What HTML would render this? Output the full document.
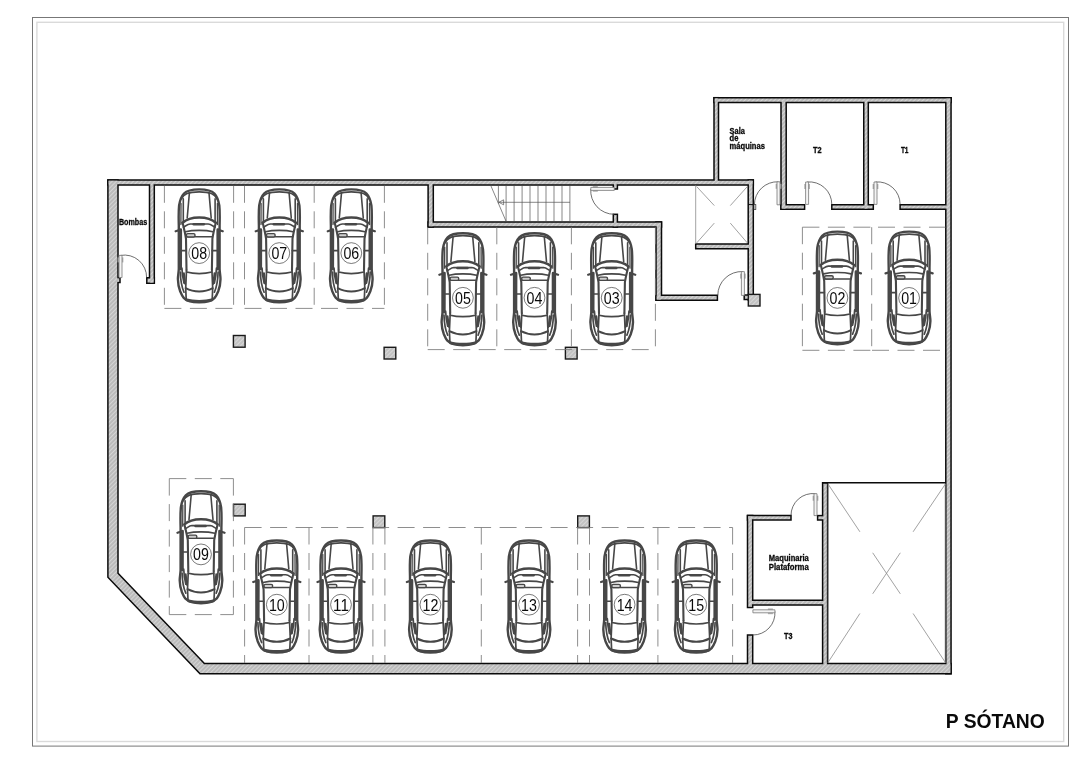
<!DOCTYPE html>
<html lang="es"><head><meta charset="utf-8"><title>P SÓTANO</title>
<style>
html,body{margin:0;padding:0;background:#fff;}
body{width:1086px;height:768px;overflow:hidden;}
svg{display:block;will-change:transform;}
text{font-family:"Liberation Sans",sans-serif;fill:#0a0a0a;}
.num{font-size:16.3px;}
.lbl text{font-size:8.3px;font-weight:bold;stroke:#0a0a0a;stroke-width:0.3px;}
.title{font-size:19.6px;font-weight:bold;}
</style></head><body>
<svg width="1086" height="768" viewBox="0 0 1086 768">
<defs>
<pattern id="hatch" width="3" height="3" patternUnits="userSpaceOnUse" patternTransform="rotate(-45)">
<rect width="3" height="3" fill="#bbb"/><rect width="3" height="0.9" fill="#d8d8d8"/>
</pattern>
<pattern id="hatch2" width="3" height="3" patternUnits="userSpaceOnUse" patternTransform="rotate(-45)">
<rect width="3" height="3" fill="#c2c2c2"/><rect width="3" height="0.9" fill="#dadada"/>
</pattern>

<symbol id="car" viewBox="-26 -2 52 118" preserveAspectRatio="none" overflow="visible">
 <g fill="none" stroke="#474747" stroke-linecap="round" stroke-linejoin="round">
  <!-- body -->
  <path stroke-width="2.4" fill="#fff" d="M0 1.1 C-7 1.1 -12 1.8 -15.2 5.2 C-17.5 7.6 -19.2 11.5 -20.1 17 C-20.6 22 -20.6 30 -20.4 37 L-20.4 80 C-20.6 84 -21.3 87 -21.3 90 C-21.2 95 -20.2 99 -19.1 101.8 C-18 104.4 -17 106.8 -15.6 108.4 C-13.5 111 -8 113 0 113 C8 113 13.5 111 15.6 108.4 C17 106.8 18 104.4 19.1 101.8 C20.2 99 21.2 95 21.3 90 C21.3 87 20.6 84 20.4 80 L20.4 37 C20.6 30 20.6 22 20.1 17 C19.2 11.5 17.5 7.6 15.2 5.2 C12 1.8 7 1.1 0 1.1 Z"/>
  <!-- front bumper band -->
  <path stroke-width="1.7" d="M-17.8 10.5 C-15.5 5.6 -11 3.5 0 3.5 C11 3.5 15.5 5.6 17.8 10.5"/>
  <!-- side thick bands -->
  <path stroke-width="2.8" d="M-18.5 41 L-18.6 80 M18.6 41 L18.6 80"/>
  <!-- mirrors -->
  <path stroke-width="2.2" d="M-23.6 42.6 L-19 41.2 M23.6 42.6 L19 41.2"/>
  <!-- hood creases -->
  <path stroke-width="1.6" d="M-9.8 4.6 L-12 29.4 M9.8 4.6 L12 29.4"/>
  <path stroke-width="1.6" d="M-15.9 10.5 L-15.9 33 M15.9 10.5 L15.9 33"/>
  <path stroke-width="1.3" d="M-18.2 15 L-18.3 36 M18.2 15 L18.3 36"/>
  <!-- windshield base -->
  <path stroke-width="2.5" d="M-16.6 34.2 C-12 30 -6 29 0 29 C6 29 12 30 16.6 34.2"/>
  <!-- cowl line with wiper -->
  <path stroke-width="1.55" d="M-15.8 38.6 C-13 37 -11.5 35.5 -9 35.4 L9 35.4 C11.5 35.5 13 37 15.8 38.6"/>
  <path stroke-width="2.5" d="M-5.5 35.7 L4.6 35.7"/>
  <!-- A pillars / roof sides -->
  <path stroke-width="2.1" d="M-16.6 34.2 C-15.4 39 -14 45 -13.2 50 L-12.7 81 M16.6 34.2 C15.4 39 14 45 13.2 50 L12.7 81"/>
  <!-- roof front edge -->
  <path stroke-width="1.6" d="M-13.8 43.1 C-9 41.9 -4 41.7 0 41.7 C4 41.7 9 41.9 13.8 43.1"/>
  <path stroke-width="1.5" d="M-12.6 48.1 L12.6 48.1"/>
  <rect stroke-width="1.4" x="-12.8" y="44.9" width="8.6" height="3.3" rx="1.4" fill="#cfcfcf"/>
  <!-- door split ticks -->
  <path stroke-width="1.6" d="M-17.5 61.8 L-13 61.8 M17.5 61.8 L13 61.8"/>
  <!-- rear window -->
  <path stroke-width="1.7" d="M-12.7 83 C-8 84.2 -4 84.5 0 84.5 C4 84.5 8 84.2 12.7 83"/>
  <path stroke-width="2.0" d="M-13.5 99 C-9 101.4 -4.5 102.3 0 102.3 C4.5 102.3 9 101.4 13.5 99"/>
  <path stroke-width="1.7" d="M-12.7 81 L-13.5 99 L-13 110 M12.7 81 L13.5 99 L13 110"/>
  <!-- rear fender lines -->
  <path stroke-width="1.7" d="M-17.3 79 C-17 85 -16.2 90 -15.2 94 M17.3 79 C17 85 16.2 90 15.2 94 M-18.9 83 C-18.7 91 -17.4 98 -15.2 103 M18.9 83 C18.7 91 17.4 98 15.2 103 M-15.2 84 L-13.9 95 M15.2 84 L13.9 95"/>
  <!-- rear bumper -->
  <path stroke-width="2.8" d="M-12.5 110.6 C-8.5 111.8 -4.5 112 0 112 C4.5 112 8.5 111.8 12.5 110.6"/>
 </g>
</symbol>

</defs>
<rect width="1086" height="768" fill="#fff"/>
<rect x="32.5" y="17.5" width="1036" height="728.6" fill="none" stroke="#777" stroke-width="1"/>
<rect x="36.9" y="22.3" width="1026.8" height="719.2" fill="none" stroke="#dadada" stroke-width="1.4"/>
<g id="walls">
<g fill="none" stroke="#0a0a0a" stroke-width="3.0" stroke-linejoin="miter">
<polygon points="108.65,180.65 117.25,180.65 117.25,573.60 204.08,664.35 950.30,664.35 950.30,673.05 200.32,673.05 108.65,577.00"/>
<polygon points="108.65,180.65 752.55,180.65 752.55,184.35 108.65,184.35"/>
<polygon points="946.55,98.45 950.30,98.45 950.30,673.05 946.55,673.05"/>
<polygon points="714.75,98.45 950.30,98.45 950.30,101.85 714.75,101.85"/>
<polygon points="714.75,98.45 717.75,98.45 717.75,182.25 714.75,182.25"/>
<polygon points="150.25,183.35 153.55,183.35 153.55,282.55 150.25,282.55"/>
<polygon points="147.55,278.55 153.55,278.55 153.55,282.55 147.55,282.55"/>
<polygon points="112.75,278.35 119.25,278.35 119.25,281.85 112.75,281.85"/>
<polygon points="428.85,183.35 432.55,183.35 432.55,226.25 428.85,226.25"/>
<polygon points="428.85,222.85 660.75,222.85 660.75,226.25 428.85,226.25"/>
<polygon points="614.05,183.35 616.65,183.35 616.65,188.25 614.05,188.25"/>
<polygon points="614.05,215.05 616.65,215.05 616.65,226.25 614.05,226.25"/>
<polygon points="656.75,222.85 660.75,222.85 660.75,299.55 656.75,299.55"/>
<polygon points="656.75,296.05 716.65,296.05 716.65,299.55 656.75,299.55"/>
<polygon points="748.95,180.65 752.55,180.65 752.55,299.25 748.95,299.25"/>
<polygon points="744.95,295.75 749.25,295.75 749.25,298.75 744.95,298.75"/>
<polygon points="696.45,244.75 750.25,244.75 750.25,248.05 696.45,248.05"/>
<polygon points="781.75,100.75 785.45,100.75 785.45,208.55 781.75,208.55"/>
<polygon points="781.75,205.45 803.85,205.45 803.85,208.55 781.75,208.55"/>
<polygon points="832.55,205.45 872.55,205.45 872.55,208.55 832.55,208.55"/>
<polygon points="864.50,100.75 867.55,100.75 867.55,208.55 864.50,208.55"/>
<polygon points="900.85,205.45 947.65,205.45 947.65,208.55 900.85,208.55"/>
<polygon points="823.35,483.55 826.85,483.55 826.85,667.25 823.35,667.25"/>
<polygon points="818.35,516.35 824.25,516.35 824.25,519.25 818.35,519.25"/>
<polygon points="748.25,516.35 790.25,516.35 790.25,519.25 748.25,519.25"/>
<polygon points="748.25,516.35 751.95,516.35 751.95,606.85 748.25,606.85"/>
<polygon points="748.25,635.75 751.95,635.75 751.95,667.25 748.25,667.25"/>
<polygon points="750.75,601.05 824.25,601.05 824.25,604.15 750.75,604.15"/>
</g>
<g fill="url(#hatch)" stroke="none">
<polygon points="108.65,180.65 117.25,180.65 117.25,573.60 204.08,664.35 950.30,664.35 950.30,673.05 200.32,673.05 108.65,577.00"/>
<polygon points="108.65,180.65 752.55,180.65 752.55,184.35 108.65,184.35"/>
<polygon points="946.55,98.45 950.30,98.45 950.30,673.05 946.55,673.05"/>
<polygon points="714.75,98.45 950.30,98.45 950.30,101.85 714.75,101.85"/>
<polygon points="714.75,98.45 717.75,98.45 717.75,182.25 714.75,182.25"/>
<polygon points="150.25,183.35 153.55,183.35 153.55,282.55 150.25,282.55"/>
<polygon points="147.55,278.55 153.55,278.55 153.55,282.55 147.55,282.55"/>
<polygon points="112.75,278.35 119.25,278.35 119.25,281.85 112.75,281.85"/>
<polygon points="428.85,183.35 432.55,183.35 432.55,226.25 428.85,226.25"/>
<polygon points="428.85,222.85 660.75,222.85 660.75,226.25 428.85,226.25"/>
<polygon points="614.05,183.35 616.65,183.35 616.65,188.25 614.05,188.25"/>
<polygon points="614.05,215.05 616.65,215.05 616.65,226.25 614.05,226.25"/>
<polygon points="656.75,222.85 660.75,222.85 660.75,299.55 656.75,299.55"/>
<polygon points="656.75,296.05 716.65,296.05 716.65,299.55 656.75,299.55"/>
<polygon points="748.95,180.65 752.55,180.65 752.55,299.25 748.95,299.25"/>
<polygon points="744.95,295.75 749.25,295.75 749.25,298.75 744.95,298.75"/>
<polygon points="696.45,244.75 750.25,244.75 750.25,248.05 696.45,248.05"/>
<polygon points="781.75,100.75 785.45,100.75 785.45,208.55 781.75,208.55"/>
<polygon points="781.75,205.45 803.85,205.45 803.85,208.55 781.75,208.55"/>
<polygon points="832.55,205.45 872.55,205.45 872.55,208.55 832.55,208.55"/>
<polygon points="864.50,100.75 867.55,100.75 867.55,208.55 864.50,208.55"/>
<polygon points="900.85,205.45 947.65,205.45 947.65,208.55 900.85,208.55"/>
<polygon points="823.35,483.55 826.85,483.55 826.85,667.25 823.35,667.25"/>
<polygon points="818.35,516.35 824.25,516.35 824.25,519.25 818.35,519.25"/>
<polygon points="748.25,516.35 790.25,516.35 790.25,519.25 748.25,519.25"/>
<polygon points="748.25,516.35 751.95,516.35 751.95,606.85 748.25,606.85"/>
<polygon points="748.25,635.75 751.95,635.75 751.95,667.25 748.25,667.25"/>
<polygon points="750.75,601.05 824.25,601.05 824.25,604.15 750.75,604.15"/>
</g>
</g>
<g stroke="#0a0a0a" stroke-width="1.4" fill="none">
<line x1="822.6" y1="482.8" x2="946" y2="482.8"/>
<line x1="748.2" y1="204.6" x2="753.3" y2="204.6" stroke-width="1"/>
<rect x="754" y="204.6" width="1.8" height="4.8" fill="#fff" stroke="#333" stroke-width="0.8"/>
</g>
<g fill="url(#hatch2)" stroke="#1a1a1a" stroke-width="1.4">
<rect x="233.4" y="335.5" width="11.7" height="11.7"/>
<rect x="384.1" y="347.3" width="11.7" height="11.7"/>
<rect x="565.4" y="347.3" width="11.7" height="11.7"/>
<rect x="233.5" y="504.2" width="11.7" height="11.7"/>
<rect x="373.1" y="515.9" width="11.7" height="11.7"/>
<rect x="577.7" y="515.9" width="11.7" height="11.7"/>
<rect x="748.3" y="294.4" width="11.7" height="11.6"/>
</g>
<g stroke="#8a8a8a" stroke-width="0.8" fill="none">
<line x1="695.7" y1="185.3" x2="695.7" y2="244"/>
<line x1="696.7" y1="186.6" x2="714.3" y2="205.6"/>
<line x1="747.3" y1="186.6" x2="730.3" y2="205.6"/>
<line x1="696.7" y1="242.9" x2="714.3" y2="223.1"/>
<line x1="747.3" y1="242.9" x2="730.3" y2="223.1"/>
<line x1="828" y1="484" x2="859.9" y2="531.8"/>
<line x1="945.4" y1="484" x2="913.1" y2="531.8"/>
<line x1="872.7" y1="552.8" x2="900.3" y2="593.8"/>
<line x1="900.3" y1="552.8" x2="872.7" y2="593.8"/>
<line x1="828" y1="662.5" x2="859.9" y2="613.5"/>
<line x1="945.4" y1="662.5" x2="913.1" y2="613.5"/>
<line x1="828.2" y1="483.5" x2="828.2" y2="663"/>
<line x1="945.2" y1="483.5" x2="945.2" y2="663"/>
</g>
<g stroke="#555" stroke-width="0.7" fill="none">
<line x1="490.9" y1="185.8" x2="506.1" y2="221.4"/>
<line x1="506.1" y1="185.8" x2="506.1" y2="221.4"/>
<line x1="514.1" y1="185.8" x2="514.1" y2="221.4"/>
<line x1="522.1" y1="185.8" x2="522.1" y2="221.4"/>
<line x1="530.0" y1="185.8" x2="530.0" y2="221.4"/>
<line x1="538.0" y1="185.8" x2="538.0" y2="221.4"/>
<line x1="546.0" y1="185.8" x2="546.0" y2="221.4"/>
<line x1="554.0" y1="185.8" x2="554.0" y2="221.4"/>
<line x1="562.0" y1="185.8" x2="562.0" y2="221.4"/>
<line x1="569.9" y1="185.8" x2="569.9" y2="221.4"/>
<line x1="498.4" y1="185.8" x2="498.4" y2="203.5"/>
<line x1="499" y1="202.3" x2="570" y2="202.3"/>
<path d="M498.8 202.3 L503.6 199.8 L503.6 204.8 Z"/>
</g>
<g stroke="#7a7a7a" stroke-width="0.85" fill="none" stroke-dasharray="17 8.5">
<path d="M164.4 185.8L164.4 308.4"/>
<path d="M233.6 185.8L233.6 308.4"/>
<path d="M164.4 308.4L233.6 308.4"/>
<path d="M244.5 185.8L244.5 308.4"/>
<path d="M314.2 185.8L314.2 308.4"/>
<path d="M384.4 185.8L384.4 308.4"/>
<path d="M244.5 308.4L384.4 308.4"/>
<path d="M427.7 227.3L427.7 349.6"/>
<path d="M496.8 227.3L496.8 349.6"/>
<path d="M571.4 227.3L571.4 349.6"/>
<path d="M655.4 227.3L655.4 349.6"/>
<path d="M427.7 349.6L655.4 349.6"/>
<path d="M802.4 227.2L802.4 350.3"/>
<path d="M871.7 227.2L871.7 350.3"/>
<path d="M802.4 227.2L871.7 227.2"/>
<path d="M802.4 350.3L871.7 350.3"/>
<path d="M878 227.2L945.5 227.2"/>
<path d="M872 350.3L945.5 350.3"/>
<path d="M169.3 478.6L233.4 478.6"/>
<path d="M169.3 478.6L169.3 614.6"/>
<path d="M233.4 478.6L233.4 614.6"/>
<path d="M169.3 614.6L233.4 614.6"/>
<path d="M244.6 527.5L732.6 527.5"/>
<path d="M244.6 527.5L244.6 663"/>
<path d="M309 527.5L309 663"/>
<path d="M372.9 527.5L372.9 663"/>
<path d="M384.9 527.5L384.9 663"/>
<path d="M481.3 527.5L481.3 663"/>
<path d="M577.6 527.5L577.6 663"/>
<path d="M589.5 527.5L589.5 663"/>
<path d="M657.9 527.5L657.9 663"/>
<path d="M732.6 527.5L732.6 663"/>
</g>
<g stroke="#555" stroke-width="0.8" fill="#fff">
<polygon points="123.40,262.40 123.40,257.40 117.60,257.40 117.60,262.40" fill="#b4b4b4" stroke="none"/>
<path fill="none" stroke="#4a4a4a" d="M120.5 255.4 A22.2 22.2 0 0 1 146.6 277.6"/>
<polygon points="122.00,277.60 122.00,255.40 119.00,255.40 119.00,277.60" fill="#f4f4f4" stroke="#777"/>
<polygon points="597.80,191.80 592.80,191.80 592.80,186.00 597.80,186.00" fill="#b4b4b4" stroke="none"/>
<path fill="none" stroke="#4a4a4a" d="M590.8 188.9 A23.5 23.5 0 0 0 614.3 214.3"/>
<polygon points="614.30,190.40 590.80,190.40 590.80,187.40 614.30,187.40" fill="#f4f4f4" stroke="#777"/>
<polygon points="775.60,188.80 775.60,183.80 781.40,183.80 781.40,188.80" fill="#b4b4b4" stroke="none"/>
<path fill="none" stroke="#4a4a4a" d="M778.5 181.8 A23.0 23.0 0 0 0 754.4 204.8"/>
<polygon points="777.00,204.80 777.00,181.80 780.00,181.80 780.00,204.80" fill="#f4f4f4" stroke="#777"/>
<polygon points="810.00,189.00 810.00,184.00 804.20,184.00 804.20,189.00" fill="#b4b4b4" stroke="none"/>
<path fill="none" stroke="#4a4a4a" d="M807.1 182.0 A22.4 22.4 0 0 1 831.8 204.4"/>
<polygon points="808.60,204.40 808.60,182.00 805.60,182.00 805.60,204.40" fill="#f4f4f4" stroke="#777"/>
<polygon points="878.40,189.00 878.40,184.00 872.60,184.00 872.60,189.00" fill="#b4b4b4" stroke="none"/>
<path fill="none" stroke="#4a4a4a" d="M875.5 182.0 A22.4 22.4 0 0 1 900.1 204.4"/>
<polygon points="877.00,204.40 877.00,182.00 874.00,182.00 874.00,204.40" fill="#f4f4f4" stroke="#777"/>
<polygon points="740.00,278.60 740.00,273.60 745.80,273.60 745.80,278.60" fill="#b4b4b4" stroke="none"/>
<path fill="none" stroke="#4a4a4a" d="M742.9 271.6 A23.8 23.8 0 0 0 717.8 295.4"/>
<polygon points="741.40,295.40 741.40,271.60 744.40,271.60 744.40,295.40" fill="#f4f4f4" stroke="#777"/>
<polygon points="812.60,500.70 812.60,495.70 818.40,495.70 818.40,500.70" fill="#b4b4b4" stroke="none"/>
<path fill="none" stroke="#4a4a4a" d="M815.5 493.7 A21.9 21.9 0 0 0 791.0 515.6"/>
<polygon points="814.00,515.60 814.00,493.70 817.00,493.70 817.00,515.60" fill="#f4f4f4" stroke="#777"/>
<polygon points="767.90,614.20 772.90,614.20 772.90,608.40 767.90,608.40" fill="#b4b4b4" stroke="none"/>
<path fill="none" stroke="#4a4a4a" d="M774.9 611.3 A22.0 22.0 0 0 1 752.9 635.0"/>
<polygon points="752.90,612.80 774.90,612.80 774.90,609.80 752.90,609.80" fill="#f4f4f4" stroke="#777"/>
</g>
<use href="#car" x="173.2" y="186.28" width="52" height="119.06"/>
<circle cx="199.2" cy="253.1" r="10.4" fill="#fff" stroke="#222" stroke-width="0.6"/>
<text class="num" x="199.2" y="258.9" text-anchor="middle" textLength="15.8" lengthAdjust="spacingAndGlyphs">08</text>
<use href="#car" x="253.3" y="186.28" width="52" height="119.06"/>
<circle cx="279.3" cy="253.1" r="10.4" fill="#fff" stroke="#222" stroke-width="0.6"/>
<text class="num" x="279.3" y="258.9" text-anchor="middle" textLength="15.8" lengthAdjust="spacingAndGlyphs">07</text>
<use href="#car" x="325.3" y="186.28" width="52" height="119.06"/>
<circle cx="351.3" cy="253.1" r="10.4" fill="#fff" stroke="#222" stroke-width="0.6"/>
<text class="num" x="351.3" y="258.9" text-anchor="middle" textLength="15.8" lengthAdjust="spacingAndGlyphs">06</text>
<use href="#car" x="436.9" y="230.20" width="52" height="118.00"/>
<circle cx="462.9" cy="297.8" r="10.4" fill="#fff" stroke="#222" stroke-width="0.6"/>
<text class="num" x="462.9" y="303.7" text-anchor="middle" textLength="15.8" lengthAdjust="spacingAndGlyphs">05</text>
<use href="#car" x="508.5" y="230.20" width="52" height="118.00"/>
<circle cx="534.5" cy="297.8" r="10.4" fill="#fff" stroke="#222" stroke-width="0.6"/>
<text class="num" x="534.5" y="303.7" text-anchor="middle" textLength="15.8" lengthAdjust="spacingAndGlyphs">04</text>
<use href="#car" x="585.7" y="230.20" width="52" height="118.00"/>
<circle cx="611.7" cy="297.8" r="10.4" fill="#fff" stroke="#222" stroke-width="0.6"/>
<text class="num" x="611.7" y="303.7" text-anchor="middle" textLength="15.8" lengthAdjust="spacingAndGlyphs">03</text>
<use href="#car" x="811.4" y="228.49" width="52" height="118.71"/>
<circle cx="837.4" cy="297.9" r="10.4" fill="#fff" stroke="#222" stroke-width="0.6"/>
<text class="num" x="837.4" y="303.8" text-anchor="middle" textLength="15.8" lengthAdjust="spacingAndGlyphs">02</text>
<use href="#car" x="883.1" y="228.49" width="52" height="118.71"/>
<circle cx="909.1" cy="297.9" r="10.4" fill="#fff" stroke="#222" stroke-width="0.6"/>
<text class="num" x="909.1" y="303.8" text-anchor="middle" textLength="15.8" lengthAdjust="spacingAndGlyphs">01</text>
<use href="#car" x="175.0" y="488.20" width="52" height="118.00"/>
<circle cx="201.0" cy="554.4" r="10.4" fill="#fff" stroke="#222" stroke-width="0.6"/>
<text class="num" x="201.0" y="560.2" text-anchor="middle" textLength="15.8" lengthAdjust="spacingAndGlyphs">09</text>
<use href="#car" x="250.8" y="537.40" width="52" height="118.12"/>
<circle cx="276.8" cy="604.7" r="10.4" fill="#fff" stroke="#222" stroke-width="0.6"/>
<text class="num" x="276.8" y="610.6" text-anchor="middle" textLength="15.8" lengthAdjust="spacingAndGlyphs">10</text>
<use href="#car" x="315.0" y="537.40" width="52" height="118.12"/>
<circle cx="341.0" cy="604.7" r="10.4" fill="#fff" stroke="#222" stroke-width="0.6"/>
<text class="num" x="341.0" y="610.6" text-anchor="middle" textLength="15.8" lengthAdjust="spacingAndGlyphs">11</text>
<use href="#car" x="404.4" y="537.40" width="52" height="118.12"/>
<circle cx="430.4" cy="604.7" r="10.4" fill="#fff" stroke="#222" stroke-width="0.6"/>
<text class="num" x="430.4" y="610.6" text-anchor="middle" textLength="15.8" lengthAdjust="spacingAndGlyphs">12</text>
<use href="#car" x="503.0" y="537.40" width="52" height="118.12"/>
<circle cx="529.0" cy="604.7" r="10.4" fill="#fff" stroke="#222" stroke-width="0.6"/>
<text class="num" x="529.0" y="610.6" text-anchor="middle" textLength="15.8" lengthAdjust="spacingAndGlyphs">13</text>
<use href="#car" x="598.6" y="537.40" width="52" height="118.12"/>
<circle cx="624.6" cy="604.7" r="10.4" fill="#fff" stroke="#222" stroke-width="0.6"/>
<text class="num" x="624.6" y="610.6" text-anchor="middle" textLength="15.8" lengthAdjust="spacingAndGlyphs">14</text>
<use href="#car" x="670.2" y="537.40" width="52" height="118.12"/>
<circle cx="696.2" cy="604.7" r="10.4" fill="#fff" stroke="#222" stroke-width="0.6"/>
<text class="num" x="696.2" y="610.6" text-anchor="middle" textLength="15.8" lengthAdjust="spacingAndGlyphs">15</text>
<g class="lbl">
<text x="118.9" y="224.9" textLength="28.3" lengthAdjust="spacingAndGlyphs">Bombas</text>
<text x="729.6" y="133.7" textLength="15.2" lengthAdjust="spacingAndGlyphs">Sala</text>
<text x="729.6" y="141.4" textLength="8.8" lengthAdjust="spacingAndGlyphs">de</text>
<text x="729.6" y="149.2" textLength="35.3" lengthAdjust="spacingAndGlyphs">máquinas</text>
<text x="813.1" y="153.0" textLength="8.6" lengthAdjust="spacingAndGlyphs">T2</text>
<text x="900.9" y="153.0" textLength="7.6" lengthAdjust="spacingAndGlyphs">T1</text>
<text x="768.8" y="560.6" textLength="40" lengthAdjust="spacingAndGlyphs">Maquinaria</text>
<text x="768.8" y="570.3" textLength="40" lengthAdjust="spacingAndGlyphs">Plataforma</text>
<text x="784" y="638.5" textLength="8.4" lengthAdjust="spacingAndGlyphs">T3</text>
</g>
<text class="title" x="945.8" y="727.9" textLength="99" lengthAdjust="spacingAndGlyphs">P SÓTANO</text>
</svg>
</body></html>
